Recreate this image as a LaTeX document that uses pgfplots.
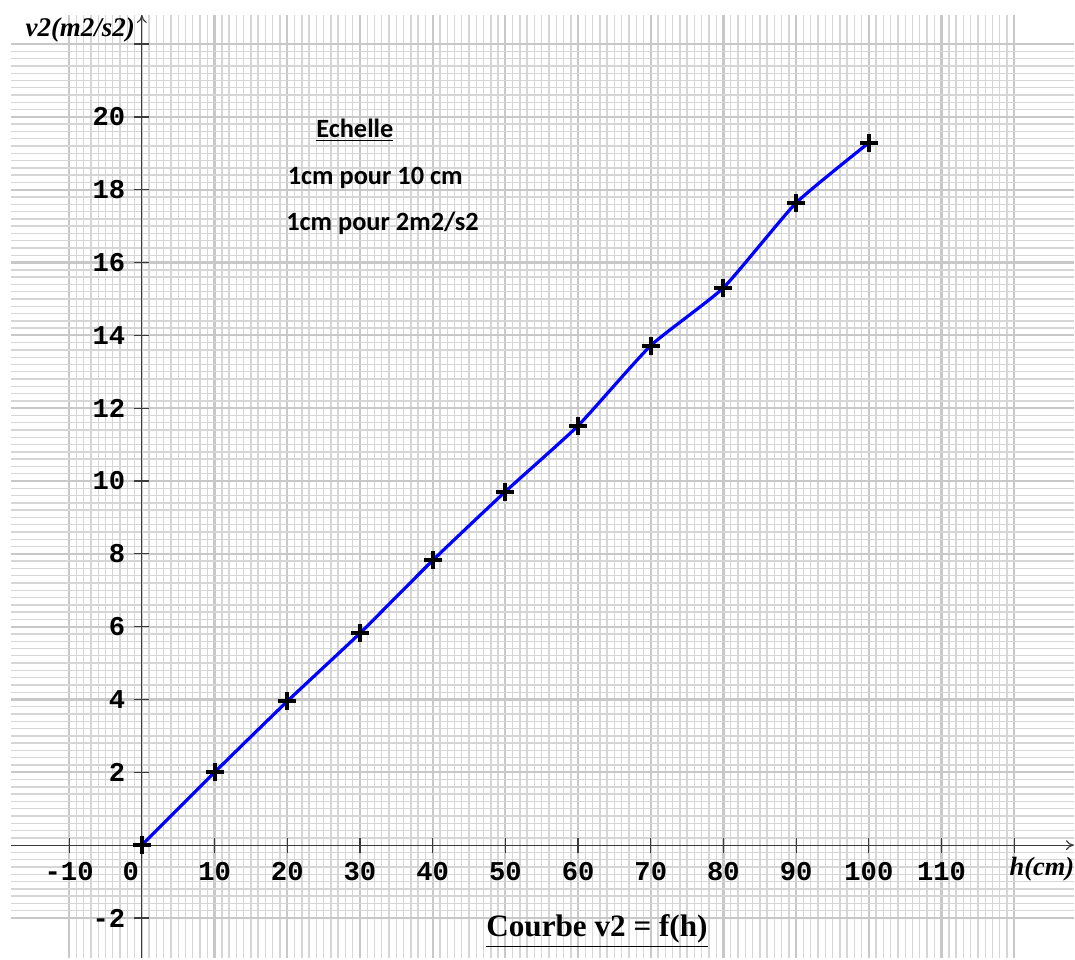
\documentclass[border=0pt]{standalone}
\usepackage{fontspec}
\usepackage{pgfplots}
\pgfplotsset{compat=1.18}
\usetikzlibrary{arrows.meta}
\setmainfont{Liberation Serif}
\newfontfamily\monob{Liberation Mono}
\newfontfamily\calib{Carlito}
\definecolor{minorg}{RGB}{214,214,214}
\definecolor{majorg}{RGB}{200,200,200}
\definecolor{axisg}{RGB}{60,60,60}

\begin{document}
\begin{tikzpicture}
\begin{axis}[
    scale only axis, width=532pt, height=472pt,
    xmin=-18, xmax=128.2, ymin=-3.1, ymax=22.8,
    axis lines=middle,
    axis line style={axisg, line width=0.6pt, -{To[length=4pt,width=5pt]}},
    xtick={-10,0,10,...,120},
    xticklabels={-10,{\makebox[0pt][r]{0\hspace{1.5pt}}},10,20,30,40,50,60,70,80,90,100,110,{}},
    ytick={-2,0,2,...,22},
    yticklabels={-2,{},2,4,6,8,10,12,14,16,18,20,{}},
    minor x tick num=9, minor y tick num=9,
    hide obscured x ticks=false,
    grid=both,
    minor grid style={minorg, line width=0.7pt},
    major grid style={majorg, line width=1.1pt},
    major tick length=7.5pt, minor tick length=0pt,
    tick align=center,
    tick style={axisg, line width=0.6pt},
    ticklabel style={font=\monob\bfseries\fontsize{13.6}{13.6}\selectfont},
    xticklabel style={yshift=-1.5pt},
    yticklabel style={xshift=-1pt},
    clip=false,
]
\addplot[blue, line width=1.6pt, smooth, tension=0.3] coordinates {
    (0,0) (10,2.0) (20,3.95) (30,5.82) (40,7.82) (50,9.71)
    (60,11.52) (70,13.72) (80,15.31) (90,17.64) (100,19.29)};
\addplot[only marks, mark=+, mark size=4.5pt, mark options={black, solid, line width=2pt}] coordinates {
    (0,0) (10,2.0) (20,3.95) (30,5.82) (40,7.82) (50,9.71)
    (60,11.52) (70,13.72) (80,15.31) (90,17.64) (100,19.29)};
\node[anchor=east, inner sep=0pt, font=\bfseries\itshape\fontsize{13.5}{13.5}\selectfont] at (axis cs:-0.9,22.4) {v2(m2/s2)};
\node[anchor=west, inner sep=0pt, font=\bfseries\itshape\fontsize{13.2}{13.2}\selectfont] at (axis cs:119.3,-0.65) {h(cm)};
\node[font=\calib\bfseries\fontsize{13.2}{13.2}\selectfont] at (axis cs:29.3,19.64) {\underline{Echelle}};
\node[font=\calib\bfseries\fontsize{13.2}{13.2}\selectfont] at (axis cs:32.1,18.33) {1cm pour 10 cm};
\node[font=\calib\bfseries\fontsize{13.2}{13.2}\selectfont] at (axis cs:33.1,17.09) {1cm pour 2m2/s2};
\node[font=\bfseries\fontsize{15.6}{15.6}\selectfont] at (axis cs:62.6,-2.36) {\underline{Courbe v2 = f(h)}};
\path (rel axis cs:0,1) ++(-5.5pt,7.5pt);
\end{axis}
\end{tikzpicture}
\end{document}
